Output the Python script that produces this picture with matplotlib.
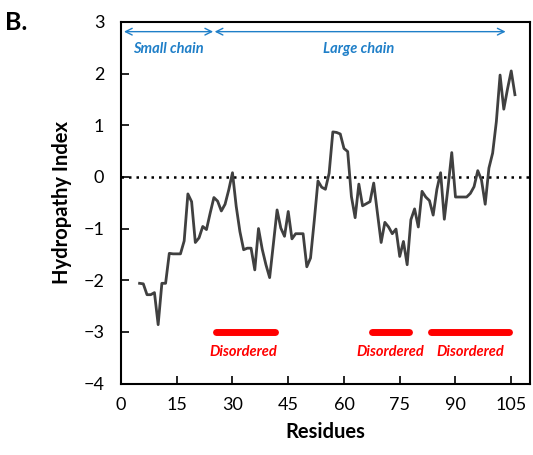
import numpy as np
import matplotlib
matplotlib.use("Agg")
import matplotlib.pyplot as plt

plt.rcParams['font.family'] = ['Lato', 'DejaVu Sans']

# hydropathy profile, residues 5..106
hydropathy = [
    -2.06, -2.07, -2.28, -2.28, -2.24, -2.86, -2.06, -2.06, -1.48, -1.49,   # 5-14
    -1.49, -1.49, -1.24, -0.33, -0.48, -1.27, -1.18, -0.96, -1.02, -0.70,   # 15-24
    -0.40, -0.47, -0.66, -0.53, -0.25, 0.08, -0.57, -1.06, -1.41, -1.38,    # 25-34
    -1.38, -1.80, -1.00, -1.40, -1.70, -1.95, -1.30, -0.64, -0.99, -1.15,   # 35-44
    -0.67, -1.20, -1.10, -1.10, -1.10, -1.74, -1.57, -0.85, -0.08, -0.20,   # 45-54
    -0.24, 0.07, 0.87, 0.86, 0.83, 0.55, 0.49, -0.38, -0.79, -0.14,         # 55-64
    -0.56, -0.52, -0.48, -0.12, -0.70, -1.27, -0.88, -0.97, -1.10, -1.01,   # 65-74
    -1.54, -1.25, -1.70, -0.83, -0.62, -0.97, -0.28, -0.39, -0.46, -0.74,   # 75-84
    -0.24, 0.08, -0.82, -0.20, 0.47, -0.39, -0.39, -0.39, -0.39, -0.32,     # 85-94
    -0.19, 0.12, -0.06, -0.53, 0.17, 0.46, 1.07, 1.97, 1.31, 1.70,          # 95-104
    2.05, 1.59,                                                             # 105-106
]
residues = np.arange(5, 5 + len(hydropathy))

# disordered regions (start, end)
disordered = [(25.5, 41.5), (67.5, 77.5), (83.5, 104.5)]
disordered_label_x = [33, 72.5, 94]

# chain domains (start, end, label)
chains = [(0.8, 24.8, 'Small chain'), (25.2, 103.5, 'Large chain')]

xticks = [0, 15, 30, 45, 60, 75, 90, 105]
yticks = [-4, -3, -2, -1, 0, 1, 2, 3]

fig = plt.figure(figsize=(5.33, 4.55), dpi=100)
ax = fig.add_axes([0.227, 0.157, 0.767, 0.795])

ax.plot(residues, hydropathy, color='#404040', lw=2, zorder=3)
ax.axhline(0, color='black', ls=(0, (1, 2)), lw=1.8, zorder=2)

red = '#ff0000'
for (s, e), lx in zip(disordered, disordered_label_x):
    ax.plot([s, e], [-3, -3], color=red, lw=5, solid_capstyle='round')
    ax.text(lx, -3.38, 'Disordered', color=red, fontsize=10.5,
            fontweight='bold', fontstyle='italic', ha='center', va='center')

blue = '#1f7fc8'
for s, e, lab in chains:
    ax.annotate('', xy=(s, 2.81), xytext=(e, 2.81),
                arrowprops=dict(arrowstyle='<->', color=blue, lw=1.0,
                                shrinkA=0, shrinkB=0, mutation_scale=12))
    ax.text((s + e) / 2 + (0 if lab == 'Small chain' else -0.5), 2.47, lab,
            color=blue, fontsize=10.5, fontweight='bold', fontstyle='italic',
            ha='center', va='center')

ax.set_xlim(0, 110)
ax.set_ylim(-4, 3)
ax.set_xticks(xticks)
ax.set_yticks(yticks)
ax.tick_params(direction='in', length=6, width=1.2, labelsize=13, pad=10)
ax.tick_params(axis='y', pad=12)
for sp in ax.spines.values():
    sp.set_linewidth(1.5)

ax.set_xlabel('Residues', fontsize=14.5, fontweight='bold', labelpad=6)
ax.set_ylabel('Hydropathy Index', fontsize=14.5, fontweight='bold', labelpad=8)

fig.text(0.01, 0.975, 'B.', fontsize=18, fontweight='bold', ha='left', va='top')

fig.savefig('out.png', dpi=100)
